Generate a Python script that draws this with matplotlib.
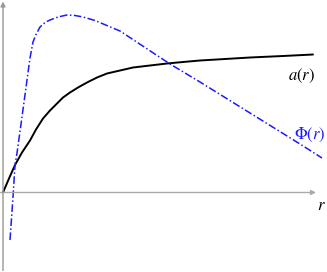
import matplotlib
matplotlib.use("Agg")
import matplotlib.pyplot as plt

# data (units: r horizontal, value vertical)
r_a = [0, 6, 12, 19, 27, 33, 40, 47, 54, 60, 67, 75, 84, 94, 104, 117, 130, 147, 164, 180, 197, 222, 247, 280, 310]
a_vals = [0, 14, 27.5, 40, 52, 63, 74, 82, 89, 95, 100, 105, 110, 115, 119, 122, 125, 127, 129, 130.5, 132, 133.5, 135, 136.5, 138]

r_phi = [7, 10, 12, 14, 19, 24, 27, 30, 33, 37, 42, 47, 55, 64, 72, 80, 92, 105, 117, 142, 167, 197, 247, 297, 319]
phi_vals = [-47.5, -4.5, 27.5, 39.5, 75.5, 112.5, 134.5, 150.5, 158, 165.5, 170, 172.5, 175.5, 177.5, 177, 175.5, 172, 166.5, 161.5, 145, 128.5, 110.5, 79.5, 48.5, 34.5]

fig = plt.figure(figsize=(3.27, 2.72), dpi=100)
ax = fig.add_axes([0, 0, 1, 1])
ax.set_xlim(-3, 324)
ax.set_ylim(-79.5, 192.5)
ax.axis('off')

# axes with arrows
ax.annotate('', xy=(313, 0), xytext=(-3, 0),
            arrowprops=dict(arrowstyle='-|>', color='#aaaaaa', lw=1.0,
                            mutation_scale=7, shrinkA=0, shrinkB=0))
ax.annotate('', xy=(0, 191), xytext=(0, -78),
            arrowprops=dict(arrowstyle='-|>', color='#999999', lw=1.0,
                            mutation_scale=7, shrinkA=0, shrinkB=0))

ax.plot(r_a, a_vals, color='black', lw=1.4, solid_capstyle='round')
ax.plot(r_phi, phi_vals, color='#1a1aff', lw=1.1, dashes=(5, 1.6, 1, 1.6))

ax.text(299, 117, r'$a(r)$', ha='center', va='center', fontsize=12,
        math_fontfamily='stix')
ax.text(307, 58, r'$\Phi(r)$', ha='center', va='center', fontsize=12,
        color='#1a1aff', math_fontfamily='stix')
ax.text(318, -12, r'$r$', ha='center', va='center', fontsize=12,
        math_fontfamily='stix')

fig.savefig('out.png', dpi=100)
